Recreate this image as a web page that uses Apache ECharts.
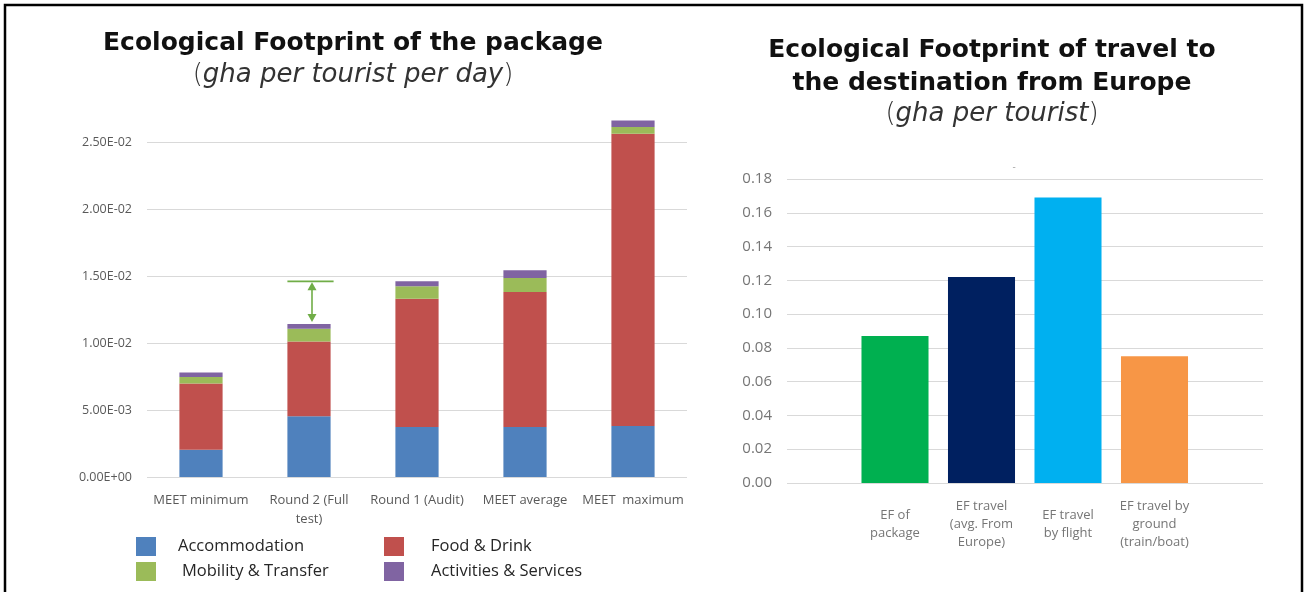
<!DOCTYPE html>
<html>
<head>
<meta charset="utf-8">
<script src="https://cdn.jsdelivr.net/npm/echarts@6/dist/echarts.min.js"></script>
<style>
  html, body { margin: 0; padding: 0; background: #ffffff; }
  #chart { width: 1307px; height: 592px; }
</style>
</head>
<body>
<div id="chart"></div>
<script>
// ---- Package footprint (gha per tourist per day), stacked by component ----
const packageCategories = ['MEET minimum', 'Round 2 (Full\ntest)', 'Round 1 (Audit)', 'MEET average', 'MEET  maximum'];
const accommodation = [0.00204, 0.00453, 0.00373, 0.00373, 0.00380];
const foodDrink     = [0.00493, 0.00559, 0.00958, 0.01007, 0.02182];
const mobility      = [0.00049, 0.00095, 0.00092, 0.00105, 0.00050];
const activities    = [0.00033, 0.00035, 0.00037, 0.00057, 0.00048];
const packageTicks  = { min: 0, max: 0.027, interval: 0.005 };

// ---- Travel footprint (gha per tourist) ----
const travelCategories = ['EF of\npackage', 'EF travel\n(avg. From\nEurope)', 'EF travel\nby flight', 'EF travel by\nground\n(train/boat)'];
const travelValues = [0.087, 0.122, 0.169, 0.075];
const travelColors = ['#00b050', '#002060', '#00b0f0', '#f79646'];
const travelTicks  = { min: 0, max: 0.18, interval: 0.02 };

const seriesColors = {
  'Accommodation': '#4f81bd',
  'Food & Drink': '#c0504d',
  'Mobility & Transfer': '#9bbb59',
  'Activities & Services': '#8064a2'
};

// Gap between Round 2 and Round 1 totals, marked with a double arrow
const totalOf = i => accommodation[i] + foodDrink[i] + mobility[i] + activities[i];
const gapArrow = [[1, totalOf(1), totalOf(2)]];

function sci(v) {
  if (v === 0) return '0.00E+00';
  const e = Math.floor(Math.log10(Math.abs(v)) + 1e-9);
  const m = v / Math.pow(10, e);
  const sign = e < 0 ? '-' : '+';
  const ex = String(Math.abs(e)).padStart(2, '0');
  return m.toFixed(2) + 'E' + sign + ex;
}

const labelFont = "'Open Sans', 'Liberation Sans', sans-serif";
const titleFont = "'DejaVu Sans', Inter, sans-serif";
const subFont = "'DejaVu Sans', 'Open Sans', sans-serif";
const gridColor = '#d9d9d9';

const chart = echarts.init(document.getElementById('chart'), null, { renderer: 'canvas' });

function legendItem(name, left, top, pad) {
  return {
    data: [name],
    left: left, top: top,
    padding: 0,
    orient: 'horizontal',
    itemWidth: 20, itemHeight: 19,
    icon: 'rect',
    selectedMode: false,
    textStyle: {
      fontFamily: labelFont, fontSize: 16.5, color: '#262626',
      padding: pad
    }
  };
}

const stackSeries = [
  ['Accommodation', accommodation],
  ['Food & Drink', foodDrink],
  ['Mobility & Transfer', mobility],
  ['Activities & Services', activities]
].map(([name, values]) => ({
  name: name,
  type: 'bar',
  stack: 'package',
  xAxisIndex: 0, yAxisIndex: 0,
  barWidth: '40%',
  itemStyle: { color: seriesColors[name] },
  data: values
}));

const subRich = {
  p: { fontFamily: subFont, fontSize: 26, fontWeight: 200, color: '#333333', lineHeight: 30 },
  i: { fontFamily: subFont, fontSize: 26, fontWeight: 200, fontStyle: 'italic', color: '#333333', lineHeight: 30 }
};

const option = {
  animation: false,
  backgroundColor: '#ffffff',
  title: [
    {
      text: 'Ecological Footprint of the package',
      left: 348, top: 22, textAlign: 'center',
      textStyle: { fontFamily: titleFont, fontSize: 25, fontWeight: 700, color: '#111111', lineHeight: 32 }
    },
    {
      text: '{p|(}{i|gha per tourist per day}{p|)}',
      left: 348, top: 55, textAlign: 'center',
      textStyle: { rich: subRich }
    },
    {
      text: 'Ecological Footprint of travel to\nthe destination from Europe',
      left: 987, top: 28.5, textAlign: 'center',
      textStyle: { fontFamily: titleFont, fontSize: 25, fontWeight: 700, color: '#111111', lineHeight: 33 }
    },
    {
      text: '{p|(}{i|gha per tourist}{p|)}',
      left: 987, top: 94, textAlign: 'center',
      textStyle: { rich: subRich }
    },
    {
      text: '-',
      left: 1009, top: 157, textAlign: 'center',
      textStyle: { fontFamily: labelFont, fontSize: 10, color: '#a6a6a6', fontWeight: 400 }
    }
  ],
  legend: [
    legendItem('Accommodation', 136, 537, [0, 0, 0, 17]),
    legendItem('Mobility & Transfer', 136, 562, [0, 0, 0, 21]),
    legendItem('Food & Drink', 384, 537, [9, 0, 0, 22]),
    legendItem('Activities & Services', 384, 562, [0, 0, 4, 22])
  ],
  grid: [
    // package chart
    { left: 147, width: 540, top: 477 - 0.027 * 13400, height: 0.027 * 13400 },
    // travel chart: axis + gridlines
    { left: 787, width: 476, top: 179, height: 304 },
    // travel chart: bar band, narrower than the gridlines
    { left: 851.75, width: 346, top: 179, height: 304 }
  ],
  xAxis: [
    {
      gridIndex: 0, type: 'category', data: packageCategories,
      axisLine: { show: false }, axisTick: { show: false },
      axisLabel: {
        interval: 0, margin: 14, fontFamily: labelFont, fontSize: 13, color: '#595959', lineHeight: 19
      }
    },
    { gridIndex: 1, type: 'value', show: false, min: 0, max: 1 },
    {
      gridIndex: 2, type: 'category', data: travelCategories,
      axisLine: { show: false }, axisTick: { show: false },
      axisLabel: {
        interval: 0, margin: 41, verticalAlign: 'middle',
        fontFamily: labelFont, fontSize: 13, color: '#767676', lineHeight: 18
      }
    }
  ],
  yAxis: [
    {
      gridIndex: 0, type: 'value',
      min: packageTicks.min, max: packageTicks.max, interval: packageTicks.interval,
      axisLine: { show: false }, axisTick: { show: false },
      splitLine: { show: true, showMaxLine: false, lineStyle: { color: gridColor, width: 1.2 } },
      axisLabel: {
        margin: 15, showMaxLabel: false, fontFamily: labelFont, fontSize: 12.5, color: '#595959',
        formatter: v => sci(v)
      }
    },
    {
      gridIndex: 1, type: 'value',
      min: travelTicks.min, max: travelTicks.max, interval: travelTicks.interval,
      axisLine: { show: false }, axisTick: { show: false },
      splitLine: { show: true, lineStyle: { color: gridColor, width: 1.2 } },
      axisLabel: {
        margin: 15, fontFamily: labelFont, fontSize: 15, color: '#767676',
        formatter: v => v.toFixed(2)
      }
    },
    {
      gridIndex: 2, type: 'value', show: false,
      min: travelTicks.min, max: travelTicks.max, interval: travelTicks.interval,
      splitLine: { show: false }
    }
  ],
  series: [
    ...stackSeries,
    {
      name: 'gap',
      type: 'custom',
      xAxisIndex: 0, yAxisIndex: 0,
      z: 5,
      silent: true,
      encode: { x: 0, y: [1, 2] },
      data: gapArrow,
      renderItem: function (params, api) {
        const idx = api.value(0);
        const low = api.coord([idx, api.value(1)]);
        const high = api.coord([idx, api.value(2)]);
        const band = api.size([1, 0])[0];
        const half = band * 0.2;
        const stroke = '#70ad47';
        const ax = low[0] + 3;
        const yTop = high[1];
        const yBot = low[1] - 2;
        return {
          type: 'group',
          children: [
            { type: 'line', shape: { x1: low[0] - half, y1: yTop, x2: low[0] + half + 3, y2: yTop },
              style: { stroke: stroke, lineWidth: 1.6 } },
            { type: 'line', shape: { x1: ax, y1: yTop + 6, x2: ax, y2: yBot - 6 },
              style: { stroke: stroke, lineWidth: 1.6 } },
            { type: 'polygon', shape: { points: [[ax, yTop + 1], [ax - 4.5, yTop + 9], [ax + 4.5, yTop + 9]] },
              style: { fill: stroke } },
            { type: 'polygon', shape: { points: [[ax, yBot], [ax - 4.5, yBot - 8], [ax + 4.5, yBot - 8]] },
              style: { fill: stroke } }
          ]
        };
      }
    },
    {
      name: 'travel',
      type: 'bar',
      xAxisIndex: 2, yAxisIndex: 2,
      barWidth: '77.5%',
      data: travelValues.map((v, i) => ({ value: v, itemStyle: { color: travelColors[i] } }))
    }
  ],
  graphic: [
    {
      type: 'rect', silent: true, z: 100,
      shape: { x: 5, y: 5, width: 1297, height: 620 },
      style: { fill: 'none', stroke: '#000000', lineWidth: 2.5 }
    }
  ]
};

chart.setOption(option);
</script>
</body>
</html>
